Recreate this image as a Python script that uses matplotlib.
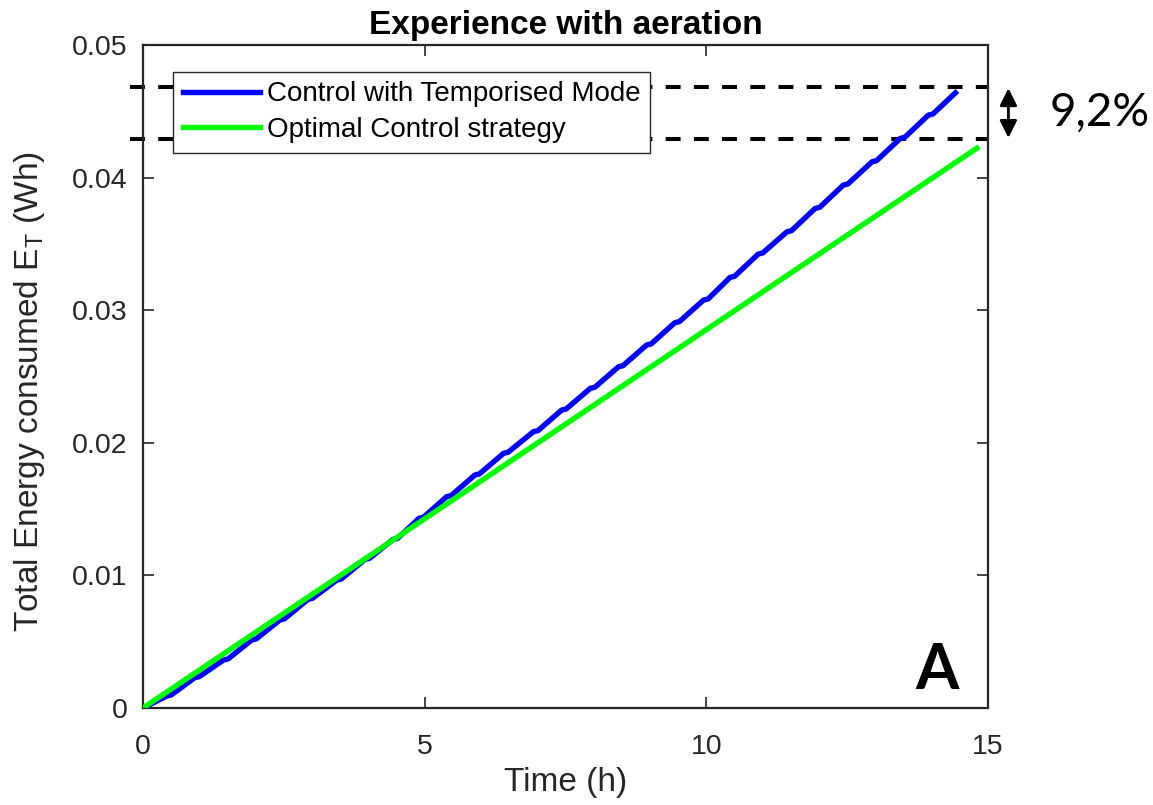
import numpy as np
import matplotlib
matplotlib.use("Agg")
import matplotlib.pyplot as plt

plt.rcParams["font.family"] = ["Liberation Sans", "DejaVu Sans"]
plt.rcParams["mathtext.fontset"] = "custom"
plt.rcParams["mathtext.rm"] = "Liberation Sans"
plt.rcParams["mathtext.it"] = "Liberation Sans"

# cumulative energy, temporised mode (kinks every ~0.5 h)
blue_t = [0.00, 0.42, 0.50, 0.92, 1.00, 1.43, 1.51, 1.93, 2.01, 2.43, 2.51,
          2.93, 3.01, 3.44, 3.52, 3.94, 4.02, 4.44, 4.52, 4.90, 4.98, 5.39,
          5.47, 5.89, 5.97, 6.40, 6.48, 6.93, 7.01, 7.43, 7.51, 7.94, 8.02,
          8.44, 8.52, 8.94, 9.02, 9.44, 9.52, 9.95, 10.03, 10.42, 10.50,
          10.92, 11.00, 11.43, 11.51, 11.93, 12.01, 12.43, 12.51, 12.94,
          13.02, 13.44, 13.52, 13.94, 14.02, 14.42]
blue_e = [0.00000, 0.00090, 0.00098, 0.00229, 0.00237, 0.00362, 0.00370,
          0.00513, 0.00521, 0.00664, 0.00672, 0.00820, 0.00828, 0.00965,
          0.00973, 0.01121, 0.01129, 0.01272, 0.01280, 0.01431, 0.01439,
          0.01594, 0.01602, 0.01757, 0.01765, 0.01921, 0.01929, 0.02084,
          0.02092, 0.02247, 0.02255, 0.02411, 0.02419, 0.02574, 0.02582,
          0.02738, 0.02746, 0.02906, 0.02914, 0.03077, 0.03085, 0.03248,
          0.03256, 0.03424, 0.03432, 0.03592, 0.03600, 0.03768, 0.03776,
          0.03944, 0.03952, 0.04120, 0.04128, 0.04296, 0.04304, 0.04472,
          0.04480, 0.04640]

# cumulative energy, optimal control
green_t = [0.0, 5.0, 10.0, 14.8]
green_e = [0.0, 0.01427, 0.02854, 0.04222]

gap_low = 0.0429
gap_pct = 9.2
gap_high = gap_low * (1 + gap_pct / 100)

fig = plt.figure(figsize=(11.53, 8.05), dpi=100)
ax = fig.add_axes([0.124, 0.1205, 0.733, 0.8235])

ax.plot(blue_t, blue_e, color=(0, 0, 1), lw=3.9, label="Control with Temporised Mode",
        solid_joinstyle="round", zorder=3)
ax.plot(green_t, green_e, color=(0, 1, 0), lw=3.9, label="Optimal Control strategy",
        zorder=3)

for yv in (gap_high, gap_low):
    ax.plot([-0.23, 15.0], [yv, yv], color="black", lw=2.9, dashes=(3.7, 3.3),
            clip_on=False, zorder=2)

ax.annotate("", xy=(15.36, gap_high - 0.0001), xytext=(15.36, gap_low + 0.0001),
            arrowprops=dict(arrowstyle="<|-|>", color="black", lw=2,
                            mutation_scale=26, shrinkA=0, shrinkB=0),
            annotation_clip=False)
ax.text(16.1, (gap_high + gap_low) / 2, "9,2%", fontsize=33, family="Lato",
        ha="left", va="center", clip_on=False)
ax.text(14.1, 0.0028, "A", fontsize=45, family="Lato", fontweight="bold",
        ha="center", va="center")

ax.set_xlim(0, 15)
ax.set_ylim(0, 0.05)
ax.set_xticks([0, 5, 10, 15])
ax.set_yticks([0, 0.01, 0.02, 0.03, 0.04, 0.05])
ax.set_yticklabels(["0", "0.01", "0.02", "0.03", "0.04", "0.05"])
ax.tick_params(direction="in", length=8, width=1.2, labelsize=20.5,
               colors="#262626", top=True, right=True)
ax.tick_params(axis="x", pad=19)
ax.tick_params(axis="y", pad=11)
for s in ax.spines.values():
    s.set_linewidth(1.6)
    s.set_color("#262626")

ax.set_title("Experience with aeration", fontsize=24, fontweight="bold", pad=8)
ax.set_xlabel("Time (h)", fontsize=24, color="#262626", labelpad=5)
ax.set_ylabel(r"Total Energy consumed $\mathrm{E}_\mathrm{T}$ (Wh)", fontsize=24,
              color="#262626")
ax.yaxis.set_label_coords(-0.114, 0.478)

leg = ax.legend(loc="upper left", bbox_to_anchor=(0.0355, 0.96), fontsize=20,
                frameon=True, fancybox=False, framealpha=1, handlelength=2.77,
                handletextpad=0.25, borderpad=0.35, labelspacing=0.35,
                borderaxespad=0)
leg.get_frame().set_edgecolor("#262626")
leg.get_frame().set_linewidth(1.0)
leg.set_zorder(5)

fig.savefig("out.png", dpi=100)
